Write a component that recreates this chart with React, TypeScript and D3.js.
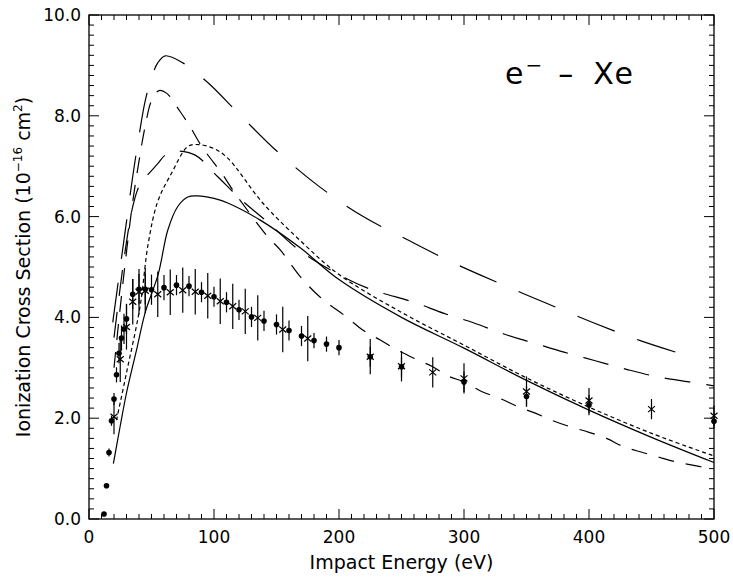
import * as d3 from 'd3';

// measured points (filled circles)
const dotE = [12, 14, 16, 18, 20, 22, 24, 26, 28, 30, 35, 40, 45, 50, 60, 70, 80, 90, 100, 110, 120, 130, 140, 150, 160, 170, 180, 190, 200, 225, 250, 300, 350, 400, 500];
const dotV = [0.1, 0.66, 1.32, 1.95, 2.38, 2.86, 3.29, 3.59, 3.77, 3.97, 4.46, 4.56, 4.56, 4.55, 4.59, 4.64, 4.62, 4.5, 4.41, 4.3, 4.15, 4.01, 3.93, 3.86, 3.74, 3.63, 3.54, 3.47, 3.4, 3.22, 3.02, 2.72, 2.43, 2.26, 1.94];
const dotErr = [0, 0, 0.08, 0.1, 0.12, 0.15, 0.2, 0.25, 0.3, 0.3, 0.3, 0.3, 0.3, 0.3, 0.25, 0.2, 0.2, 0.2, 0.2, 0.2, 0.2, 0.2, 0.2, 0.2, 0.2, 0.2, 0.15, 0.15, 0.15, 0.2, 0.2, 0.2, 0.2, 0.2, 0.15];

// measured points (asterisks)
const crossE = [20, 25, 30, 35, 40, 45, 55, 65, 75, 85, 95, 105, 115, 125, 135, 155, 175, 225, 250, 275, 300, 350, 400, 450, 500];
const crossV = [2.03, 3.17, 3.81, 4.31, 4.51, 4.53, 4.46, 4.5, 4.54, 4.51, 4.43, 4.32, 4.22, 4.12, 3.99, 3.76, 3.58, 3.22, 3.03, 2.91, 2.79, 2.53, 2.35, 2.18, 2.05];
const crossErr = [0.35, 0.45, 0.45, 0.45, 0.45, 0.45, 0.45, 0.45, 0.45, 0.45, 0.45, 0.45, 0.45, 0.45, 0.45, 0.45, 0.45, 0.35, 0.3, 0.3, 0.3, 0.3, 0.25, 0.2, 0.2];

// theory curves
const solidE = [19.5, 25, 30, 38, 45, 55.5, 63, 71, 79, 87, 100, 111, 137, 169, 200, 250, 300, 350, 400, 450, 500];
const solidV = [1.1, 1.85, 2.5, 3.35, 4.1, 4.87, 5.73, 6.2, 6.39, 6.41, 6.36, 6.27, 5.93, 5.38, 4.75, 4.0, 3.39, 2.75, 2.16, 1.62, 1.12];

const shortE = [22, 30, 40.8, 47.4, 55, 66, 79, 87, 100, 111, 139, 170, 200, 250, 300, 350, 400, 450, 500];
const shortV = [1.96, 2.9, 4.21, 5.47, 6.3, 6.86, 7.39, 7.43, 7.35, 7.16, 6.27, 5.5, 4.85, 4.1, 3.45, 2.8, 2.22, 1.7, 1.25];

const longAE = [19, 25, 30, 35, 40, 45, 50, 55, 61, 75, 95, 123, 152, 184, 218, 254, 290, 328, 365, 403, 441, 480];
const longAV = [3.9, 5.0, 5.9, 6.8, 7.6, 8.3, 8.75, 9.05, 9.19, 9.05, 8.66, 7.96, 7.26, 6.6, 6.02, 5.55, 5.1, 4.68, 4.29, 3.9, 3.54, 3.23];

const longBE = [20, 25, 30, 35, 40, 46, 55, 61, 70, 85, 103, 122, 141, 170, 203, 225, 260, 284, 308, 332, 356, 380, 405, 430, 455, 480, 500];
const longBV = [3.6, 4.6, 5.5, 6.2, 6.6, 6.8, 7.05, 7.22, 7.3, 7.22, 6.79, 6.33, 5.93, 5.3, 4.81, 4.56, 4.3, 4.08, 3.89, 3.67, 3.49, 3.31, 3.14, 2.97, 2.82, 2.72, 2.64];

const longCE = [20, 25, 30, 35, 40, 45, 50, 56, 62, 73, 81, 90, 107, 115, 143, 153, 169, 185, 207, 219, 233, 247, 260, 275, 287, 300, 314, 328, 343, 357, 371, 385, 400, 414, 428, 443, 458, 472, 489, 500];
const longCV = [3.0, 4.2, 5.3, 6.3, 7.1, 7.8, 8.3, 8.5, 8.45, 8.08, 7.78, 7.4, 6.83, 6.53, 5.6, 5.34, 4.81, 4.4, 3.99, 3.75, 3.55, 3.35, 3.19, 3.02, 2.84, 2.72, 2.53, 2.4, 2.23, 2.1, 1.95, 1.83, 1.72, 1.6, 1.43, 1.32, 1.21, 1.12, 1.04, 1.0];

const xTicks = [0, 100, 200, 300, 400, 500];
const yTicks = [0, 2, 4, 6, 8, 10];

const W = 733, H = 581;
const L = 89, R = 714, T = 15, B = 519;
const font = "'DejaVu Sans', sans-serif";

export default function App() {
  const x = d3.scaleLinear().domain([0, 500]).range([L, R]);
  const y = d3.scaleLinear().domain([0, 10]).range([B, T]);
  const line = d3.line<[number, number]>().x(d => x(d[0])).y(d => y(d[1])).curve(d3.curveCatmullRom);
  const path = (es: number[], vs: number[]) => line(es.map((e, i) => [e, vs[i]]) as [number, number][]) || '';

  const xMinor = d3.range(0, 501, 10);
  const yMinor = d3.range(0, 10.01, 0.2);

  const curves = [
    { d: path(solidE, solidV), dash: 'none' },
    { d: path(shortE, shortV), dash: '4,3' },
    { d: path(longAE, longAV), dash: '40,24' },
    { d: path(longBE, longBV), dash: '26,16' },
    { d: path(longCE, longCV), dash: '16,12' },
  ];

  return (
    <svg width={W} height={H} style={{ position: 'absolute', left: 0, top: 0, background: '#fff' }}>
      <g stroke="#000" strokeWidth={1} fill="none">
        {curves.map((c, i) => <path key={i} d={c.d} strokeDasharray={c.dash} strokeWidth={1.2} />)}
      </g>
      <g stroke="#000" strokeWidth={1.2}>
        {dotE.map((e, i) => dotErr[i] > 0 && <line key={'de' + i} x1={x(e)} x2={x(e)} y1={y(dotV[i] - dotErr[i])} y2={y(dotV[i] + dotErr[i])} />)}
        {crossE.map((e, i) => <line key={'ce' + i} x1={x(e)} x2={x(e)} y1={y(crossV[i] - crossErr[i])} y2={y(crossV[i] + crossErr[i])} />)}
        {crossE.map((e, i) => (
          <path key={'c' + i} d={`M${x(e) - 3.5},${y(crossV[i]) - 3}L${x(e) + 3.5},${y(crossV[i]) + 3}M${x(e) - 3.5},${y(crossV[i]) + 3}L${x(e) + 3.5},${y(crossV[i]) - 3}`} />
        ))}
      </g>
      <g fill="#000">
        {dotE.map((e, i) => <circle key={'d' + i} cx={x(e)} cy={y(dotV[i])} r={2.8} />)}
      </g>
      <g stroke="#000" strokeWidth={1}>
        <rect x={L} y={T} width={R - L} height={B - T} fill="none" strokeWidth={1.3} />
        {xMinor.map(v => {
          const len = v % 100 === 0 ? 10 : 5;
          return <g key={'xt' + v}>
            <line x1={x(v)} x2={x(v)} y1={B} y2={B - len} />
            <line x1={x(v)} x2={x(v)} y1={T} y2={T + len} />
          </g>;
        })}
        {yMinor.map(v => {
          const len = Math.abs(v / 2 - Math.round(v / 2)) < 1e-6 ? 10 : 5;
          return <g key={'yt' + v.toFixed(1)}>
            <line x1={L} x2={L + len} y1={y(v)} y2={y(v)} />
            <line x1={R} x2={R - len} y1={y(v)} y2={y(v)} />
          </g>;
        })}
      </g>
      <g fontFamily={font} fontSize={17} fill="#000">
        {xTicks.map(v => <text key={'xl' + v} x={x(v)} y={B + 24} textAnchor="middle">{v}</text>)}
        {yTicks.map(v => <text key={'yl' + v} x={L - 8} y={y(v) + 6} textAnchor="end">{v.toFixed(1)}</text>)}
        <text x={(L + R) / 2} y={B + 50} textAnchor="middle" fontSize={19}>Impact Energy (eV)</text>
        <text transform={`translate(30,${(T + B) / 2}) rotate(-90)`} textAnchor="middle" fontSize={19}>
          Ionization Cross Section (10<tspan dy={-8} fontSize={12}>−16</tspan><tspan dy={8}> cm</tspan><tspan dy={-8} fontSize={12}>2</tspan><tspan dy={8}>)</tspan>
        </text>
        <text x={505} y={84} fontSize={30} letterSpacing={2}>e<tspan dy={-12} fontSize={20}>−</tspan><tspan dx={14} dy={12}>–</tspan><tspan dx={18}>Xe</tspan></text>
      </g>
    </svg>
  );
}
